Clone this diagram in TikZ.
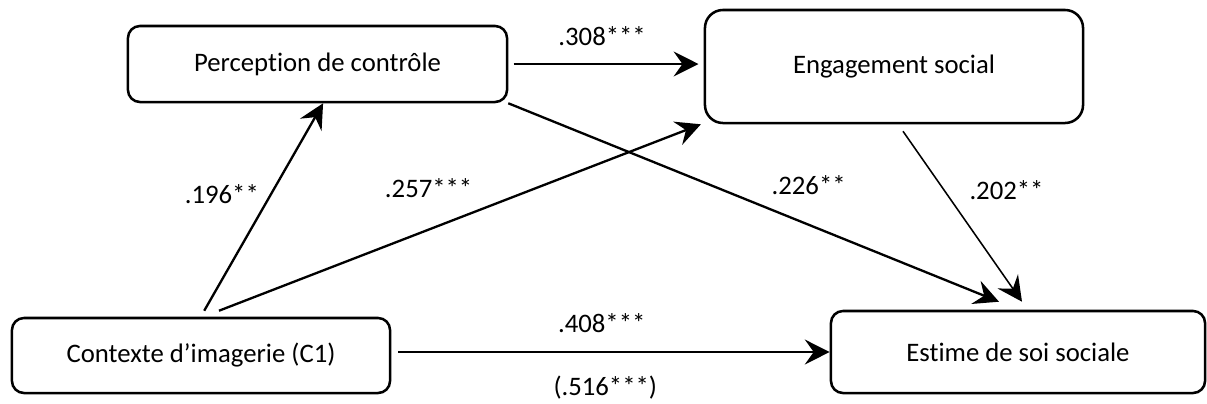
\documentclass[tikz,border=0pt]{standalone}
\usepackage{fontspec}
\setmainfont{Carlito}[Ligatures=NoCommon]
\usetikzlibrary{arrows.meta}

\tikzset{
  var/.style={draw,rounded corners=0.3cm,line width=1.8pt,font=\fontsize{19}{22}\selectfont},
  coef/.style={inner sep=2pt,font=\fontsize{19}{22}\selectfont},
  arr/.style={-{Stealth[length=0.62cm,width=0.62cm,inset=0.22cm]},line width=1.65pt},
}

\begin{document}
\begin{tikzpicture}[x=0.025cm,y=-0.025cm]
    \useasboundingbox (0,0) rectangle (1207,403);
    \node[var,minimum width=9.475cm,minimum height=1.9cm] (P) at (317.5,64) {Perception de contrôle};
    \node[var,rounded corners=0.45cm,minimum width=9.45cm,minimum height=2.825cm] (E) at (894,66.5) {Engagement social};
    \node[var,minimum width=9.45cm,minimum height=1.875cm] (C) at (201,355.5) {Contexte d’imagerie (C1)};
    \node[var,minimum width=9.35cm,minimum height=2.05cm] (S) at (1018,352) {Estime de soi sociale};
    \path[arr] (P.east) edge[shorten <=0.13cm,shorten >=0.13cm] node[coef,above=0.37cm,pos=0.48] (l308) {.308***} (P.east -| E.west);
    \path[arr] (C.east |- S.west) edge[shorten <=0.17cm] node[coef,above=0.39cm,pos=0.48] (l408) {.408***} node[coef,below=0.5cm,pos=0.488] (l516) {(.516***)} (S.west);
    \path[arr] ([xshift=0.08cm,yshift=0.15cm]C.north) edge node[coef,left=0.2cm,pos=0.56] (l196) {.196**} ([xshift=0.14cm]P.south);
    \path[arr] ([xshift=0.45cm,yshift=0.15cm]C.north) edge node[coef,above=0.7cm,pos=0.435] (l257) {.257***} ([xshift=-0.07cm]E.south west);
    \path[arr] (P.south east) edge node[coef,above=0.65cm,pos=0.612] (l226) {.226**} ([xshift=-0.475cm,yshift=0.2cm]S.north);
    \path[arr,line width=1.1pt] ([xshift=0.225cm,yshift=-0.175cm]E.south) edge node[coef,right=0.54cm,pos=0.347] (l202) {.202**} ([xshift=0.1cm,yshift=0.2cm]S.north);
\end{tikzpicture}
\end{document}
